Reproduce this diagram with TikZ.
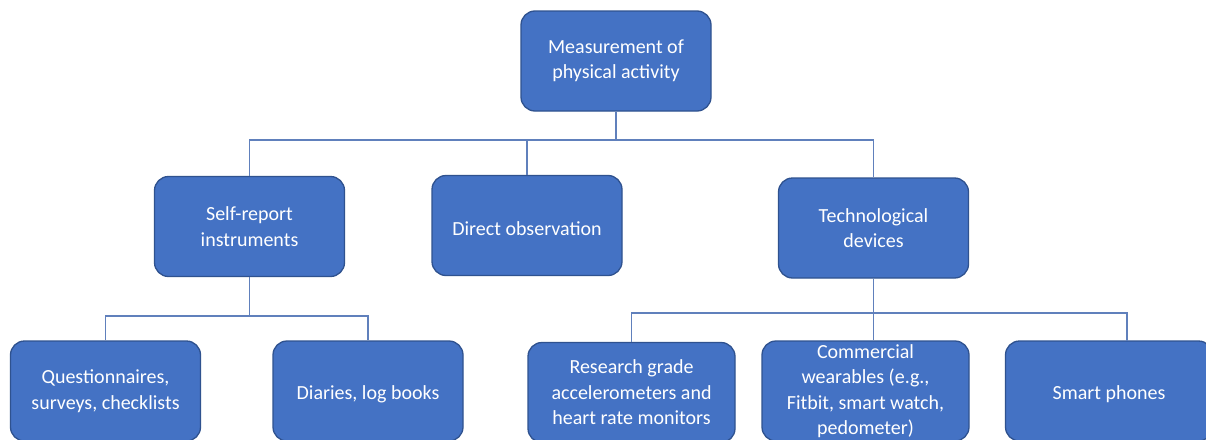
\documentclass[tikz,border=0pt]{standalone}
\usepackage{fontspec}
\setmainfont{Carlito}
\definecolor{boxfill}{RGB}{68,114,196}
\definecolor{boxedge}{RGB}{47,82,143}
\definecolor{linkblue}{RGB}{96,128,188}
\tikzset{
  catbox/.style={rounded corners=14pt, fill=boxfill, draw=boxedge, line width=1.3pt,
    text=white, align=center, minimum width=190pt, minimum height=100pt, inner sep=0pt,
    font=\fontsize{20}{25.5}\selectfont,
    execute at begin node={\rule{0pt}{20pt}}},
  widebox/.style={catbox, minimum width=207pt},
  link/.style={draw=linkblue, line width=1.1pt}
}
\begin{document}
\begin{tikzpicture}[x=1pt,y=-1pt]
\useasboundingbox (0,0) rectangle (1206,439);
\clip (0,0) rectangle (1206,439);
\fill[white] (0,0) rectangle (1206,439);

% bus levels
\coordinate (busA) at (616,140);
\coordinate (busB) at (249.5,316);
\coordinate (busC) at (874,313);
\coordinate (phoneTop) at (1127,341);

% boxes
\node[catbox] (root) at (616,61) {Measurement of\\physical activity};
\node[catbox] (self) at (249.5,226.5) {Self-report\\instruments};
\node[catbox] (direct) at (527,225.5) {Direct observation};
\node[catbox] (tech) at (873.5,228) {Technological\\devices};
\node[catbox] (quest) at (105.5,391) {Questionnaires,\\surveys, checklists};
\node[catbox] (diary) at (368,391) {Diaries, log books};
\node[widebox] (research) at (631.5,392.5) {Research grade\\accelerometers and\\heart rate monitors};
\node[widebox] (comm) at (865.5,391) {Commercial\\wearables (e.g.,\\Fitbit, smart watch,\\pedometer)};
\node[widebox] (smart) at (1109,391) {Smart phones};

% connectors between the boxes
\path[link] (root.south) -- (root.south |- busA);
\path[link] (self.north) -- (self.north |- busA) -- (tech.north |- busA) -- (tech.north);
\path[link] (direct.north) -- (direct.north |- busA);

\path[link] (self.south) -- (busB);
\path[link] (quest.north) -- (quest.north |- busB) -- (diary.north |- busB) -- (diary.north);

\path[link] (tech.south) -- (tech.south |- busC);
\path[link] (research.north) -- (research.north |- busC) -- (phoneTop |- busC) -- (phoneTop);
\path[link] (tech.south |- busC) -- (tech.south |- comm.north);
\end{tikzpicture}
\end{document}
